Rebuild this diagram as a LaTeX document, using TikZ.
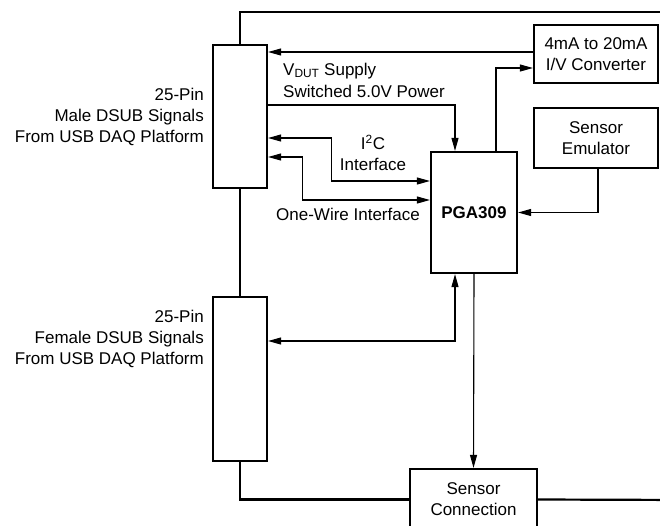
\documentclass[tikz,border=0pt]{standalone}
\usepackage{fontspec}
\setmainfont{Liberation Sans}
\usetikzlibrary{arrows.meta,positioning,calc}

\begin{document}
\begin{tikzpicture}[
  x=1pt,y=-1pt,
  font=\fontsize{17}{21}\selectfont,
  b/.style={draw,line width=2.2pt,align=center,inner sep=0pt},
  frame/.style={line width=2.2pt},
  arrow/.style={-{Triangle[length=13pt,width=7pt]},line width=1.1pt},
  dblarrow/.style={{Triangle[length=13pt,width=7pt]}-{Triangle[length=13pt,width=7pt]},line width=1.1pt},
  lbl/.style={inner sep=0pt}
]
  \useasboundingbox (0,0) rectangle (660,525);
  \clip (0,0) rectangle (660,525);

  % blocks
  \node[b,minimum width=54pt,minimum height=143pt] (male) at (240,116.5) {};
  \node[b,minimum width=54pt,minimum height=164pt] (female) at (240,379) {};
  \node[b,minimum width=86pt,minimum height=121pt,font=\fontsize{17}{21}\selectfont\bfseries] (pga) at (474,212.5) {PGA309};
  \node[b,minimum width=124pt,minimum height=58pt] (conv) at (596,54) {4mA to 20mA\\I/V Converter};
  \node[b,minimum width=124pt,minimum height=60pt] (emu) at (596,138) {Sensor\\Emulator};
  \node[b,minimum width=127pt,minimum height=61pt] (sens) at (473.5,499.5) {Sensor\\Connection};

  % outer frame
  \coordinate (ftop) at (690,12);
  \coordinate (fbot) at (690,500);
  \draw[frame] (male.north) |- (ftop);
  \draw[frame] (male.south) -- (female.north);
  \draw[frame] (female.south) |- (sens.west);
  \draw[frame] (sens.east) -- (fbot);

  % labels
  \node[lbl,align=right,anchor=north east] (malelbl) at (204,88) {25-Pin\\Male DSUB Signals\\From USB DAQ Platform};
  \node[lbl,align=right,anchor=north east] (femlbl) at (204,310) {25-Pin\\Female DSUB Signals\\From USB DAQ Platform};
  \node[lbl,anchor=base west] (vdutlbl) at (283,75) {V\textsubscript{DUT} Supply};
  \node[lbl,anchor=base west] (pwrlbl) at (283,97) {Switched 5.0V Power};
  \node[lbl,align=center,anchor=north] (i2clbl) at (373,135) {I\textsuperscript{2}C\\Interface};
  \node[lbl,anchor=base east] (owlbl) at (420,220) {One-Wire Interface};

  % signals
  \coordinate (vdut) at ([yshift=2pt]conv.west);
  \coordinate (i2cm) at ([xshift=63pt,yshift=-21.5pt]male.east);
  \coordinate (owm) at ([xshift=34pt,yshift=-40.5pt]male.east);
  \draw[arrow] (vdut) -- (male.east |- vdut);
  \draw[arrow] ([yshift=11.5pt]male.east) -| ([xshift=-19pt]pga.north);
  \draw[arrow] ([xshift=22pt]pga.north) |- ([yshift=-14pt]conv.west);
  \draw[dblarrow] ([yshift=-21.5pt]male.east) -- (i2cm) |- ([yshift=31.5pt]pga.west);
  \draw[dblarrow] ([yshift=-40.5pt]male.east) -- (owm) |- ([yshift=12.5pt]pga.west);
  \draw[arrow] ([xshift=2pt]emu.south) |- (pga.east);
  \draw[dblarrow] ([yshift=38pt]female.east) -| ([xshift=-19pt]pga.south);
  \draw[arrow] (pga.south) -- (sens.north);
\end{tikzpicture}
\end{document}
